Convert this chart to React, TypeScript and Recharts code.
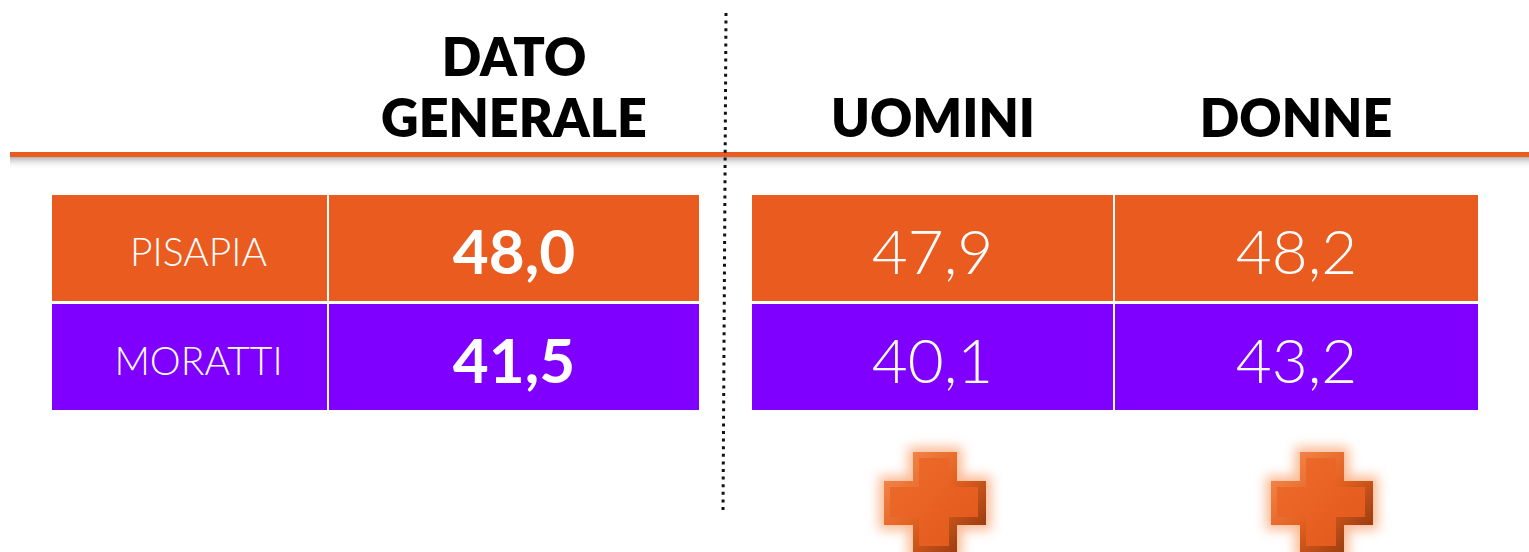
import { BarChart, Bar, XAxis, YAxis, LabelList, Customized } from "recharts";

// dati del sondaggio
const CANDIDATI = ["PISAPIA", "MORATTI"];
const GENERALE = [48.0, 41.5];
const UOMINI = [47.9, 40.1];
const DONNE = [48.2, 43.2];
const INTESTAZIONI = [["DATO", "GENERALE"], ["UOMINI"], ["DONNE"]];

// layout (pixel)
const W = 1529;
const H = 552;
const COL = { spazio: 51, nome: 277, generale: 372, gap: 51, uomini: 363, donne: 365 };
const HEAD_X = [514, 933, 1296];
const PLUS_X = [935, 1322];
const COLORI = ["#EA5B20", "#8000FF"];
const FONT = "Lato, 'Open Sans', sans-serif";

const data = CANDIDATI.map((name, i) => ({
  name,
  generale: GENERALE[i],
  uomini: UOMINI[i],
  donne: DONNE[i],
}));

const fmt = (v: number) => v.toFixed(1).replace(".", ",");

const rowIndex = (props: any) => {
  const i = CANDIDATI.indexOf(props?.payload?.name);
  return i >= 0 ? i : props.index ?? 0;
};

const CellShape = (props: any) => {
  const { x, y, width, height } = props;
  return (
    <rect
      x={x + 1}
      y={y + 1.5}
      width={width - 2}
      height={height - 3}
      fill={COLORI[rowIndex(props)]}
    />
  );
};

const makeLabel = (size: number, weight: number, dx: number, isText: boolean) => (props: any) => {
  const { x, y, width, height, value } = props;
  const txt = isText ? String(value) : fmt(Number(value));
  return (
    <text
      x={x + width / 2 + dx}
      y={y + height / 2 + size * 0.36 + 4}
      textAnchor="middle"
      fill="#fff"
      fontFamily={FONT}
      fontSize={size}
      fontWeight={weight}
    >
      {txt}
    </text>
  );
};

const HeaderTick = (props: any) => {
  const { x, index } = props;
  const lines = INTESTAZIONI[index] || [];
  const base = 137;
  return (
    <g>
      {lines.map((l, j) => (
        <text
          key={l}
          x={x}
          y={base - (lines.length - 1 - j) * 61}
          textAnchor="middle"
          fill="#000"
          fontFamily={FONT}
          fontSize={52}
          fontWeight={800}
        >
          {l}
        </text>
      ))}
    </g>
  );
};

const plusPoints = (cx: number, cy: number, r: number, q: number) =>
  [
    [cx - q, cy - r], [cx + q, cy - r], [cx + q, cy - q], [cx + r, cy - q],
    [cx + r, cy + q], [cx + q, cy + q], [cx + q, cy + r], [cx - q, cy + r],
    [cx - q, cy + q], [cx - r, cy + q], [cx - r, cy - q], [cx - q, cy - q],
  ].map((p) => p.join(",")).join(" ");

const Plus = ({ cx }: { cx: number }) => {
  const cy = 503;
  const R = 51;
  const a = 22;
  return (
    <g>
      <polygon points={plusPoints(cx, cy, R + 5, a + 5)} fill="#F9A878" filter="url(#glow)" opacity={0.8} />
      <polygon points={plusPoints(cx, cy, R, a)} fill="url(#bevel)" />
      <polygon points={plusPoints(cx - 1, cy - 1, R - 7, a - 7)} fill="url(#plusGrad)" />
    </g>
  );
};

const Decor = () => (
  <g>
    <defs>
      <linearGradient id="shadow" x1="0" y1="0" x2="0" y2="1">
        <stop offset="0%" stopColor="#aaa" stopOpacity={0.9} />
        <stop offset="100%" stopColor="#fff" stopOpacity={0} />
      </linearGradient>
      <linearGradient id="bevel" x1="0" y1="0" x2="1" y2="1">
        <stop offset="0%" stopColor="#F89058" />
        <stop offset="50%" stopColor="#E2601F" />
        <stop offset="100%" stopColor="#7E300C" />
      </linearGradient>
      <linearGradient id="plusGrad" x1="0" y1="0" x2="1" y2="1">
        <stop offset="0%" stopColor="#EE6C2C" />
        <stop offset="100%" stopColor="#E2581A" />
      </linearGradient>
      <filter id="glow" x="-50%" y="-50%" width="200%" height="200%">
        <feGaussianBlur stdDeviation="6" />
      </filter>
    </defs>
    <rect x={10} y={157} width={W - 10} height={12} fill="url(#shadow)" />
    <rect x={10} y={152} width={W - 10} height={5} fill="#EA5B20" />
    <line
      x1={726}
      y1={13}
      x2={723}
      y2={513}
      stroke="#111"
      strokeWidth={3}
      strokeDasharray="3 4.6"
    />
    {PLUS_X.map((cx) => (
      <Plus key={cx} cx={cx} />
    ))}
  </g>
);

export default function App() {
  return (
    <div style={{ position: "absolute", left: 0, top: 0, background: "#fff" }}>
      <BarChart
        width={W}
        height={H}
        data={data}
        layout="vertical"
        margin={{ top: 0, right: 0, bottom: H - 411.5, left: 0 }}
        barCategoryGap={0}
      >
        <Customized component={Decor} />
        <XAxis
          xAxisId="top"
          type="number"
          orientation="top"
          domain={[0, W]}
          height={193.5}
          ticks={HEAD_X}
          tick={HeaderTick}
          axisLine={false}
          tickLine={false}
          interval={0}
        />
        <YAxis type="category" dataKey="name" hide />
        <Bar xAxisId="top" stackId="t" dataKey={() => COL.spazio} fill="transparent" isAnimationActive={false} />
        <Bar xAxisId="top" stackId="t" dataKey={() => COL.nome} shape={CellShape} isAnimationActive={false}>
          <LabelList dataKey="name" content={makeLabel(39, 300, 9, true)} />
        </Bar>
        <Bar xAxisId="top" stackId="t" dataKey={() => COL.generale} shape={CellShape} isAnimationActive={false}>
          <LabelList dataKey="generale" content={makeLabel(62, 700, 0, false)} />
        </Bar>
        <Bar xAxisId="top" stackId="t" dataKey={() => COL.gap} fill="transparent" isAnimationActive={false} />
        <Bar xAxisId="top" stackId="t" dataKey={() => COL.uomini} shape={CellShape} isAnimationActive={false}>
          <LabelList dataKey="uomini" content={makeLabel(62, 300, 0, false)} />
        </Bar>
        <Bar xAxisId="top" stackId="t" dataKey={() => COL.donne} shape={CellShape} isAnimationActive={false}>
          <LabelList dataKey="donne" content={makeLabel(62, 300, 0, false)} />
        </Bar>
      </BarChart>
    </div>
  );
}
